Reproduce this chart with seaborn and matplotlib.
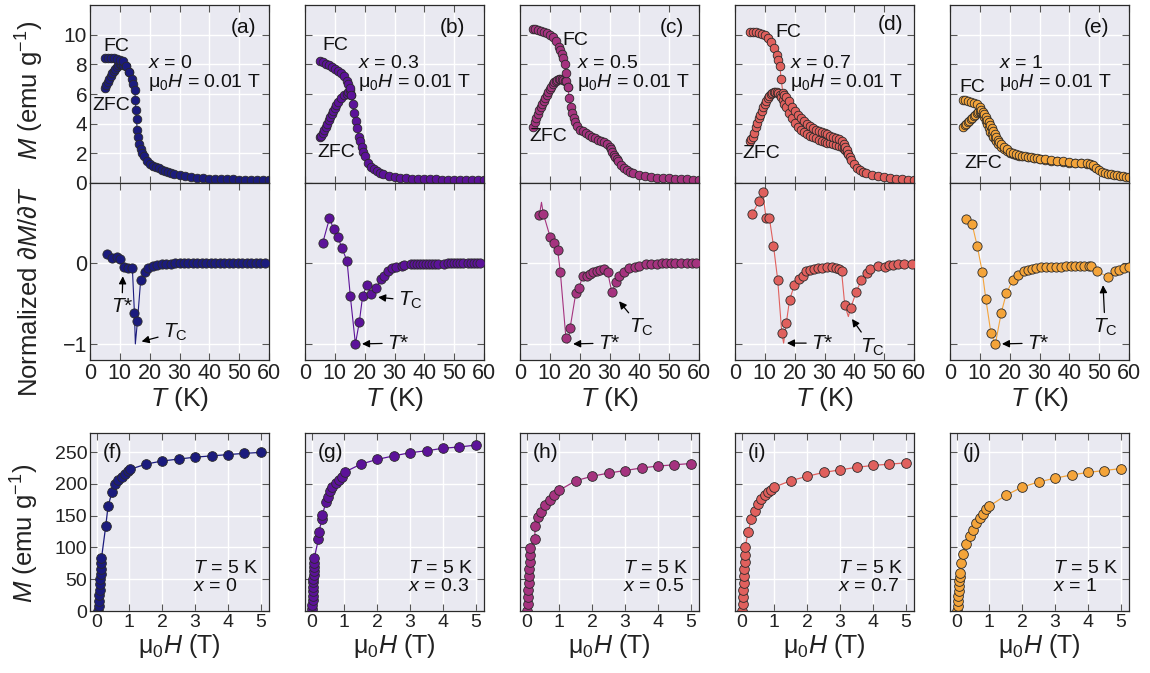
import numpy as np
import pandas as pd
import matplotlib
matplotlib.use("Agg")
import matplotlib.pyplot as plt
import seaborn as sns

# ------------------------------------------------------------------ data
compositions = ["0", "0.3", "0.5", "0.7", "1"]
panel_top = ["(a)", "(b)", "(c)", "(d)", "(e)"]
panel_bot = ["(f)", "(g)", "(h)", "(i)", "(j)"]
colors = ["#1b1b7d", "#5c1299", "#a5337f", "#e0605d", "#f4a43a"]

# M(T) curves, FC and ZFC (emu/g), mu0H = 0.01 T
T_a_fc = [5, 6, 7, 8, 9, 10, 11, 12, 13, 14, 14.5, 15, 15.2, 15.4, 15.6, 15.8, 16, 16.5, 17, 17.5, 18, 19, 20, 21, 22, 23, 24, 25, 26, 27, 28, 30, 32, 34, 36, 38, 40, 42, 44, 46, 48, 50, 52, 54, 56, 58, 60]
M_a_fc = [8.4, 8.4, 8.4, 8.4, 8.35, 8.3, 8.2, 7.9, 7.5, 7.0, 6.7, 6.3, 5.6, 4.9, 4.3, 3.6, 3.1, 2.6, 2.3, 2.0, 1.8, 1.5, 1.3, 1.15, 1.05, 1.0, 0.9, 0.82, 0.75, 0.68, 0.63, 0.55, 0.48, 0.42, 0.36, 0.32, 0.3, 0.28, 0.27, 0.25, 0.24, 0.23, 0.22, 0.21, 0.2, 0.2, 0.19]
T_a_zfc = [5, 5.5, 6, 6.5, 7, 7.5, 8, 8.5, 9, 9.5, 10, 10.5, 11, 12, 13]
M_a_zfc = [6.4, 6.6, 6.8, 7.0, 7.2, 7.4, 7.55, 7.7, 7.85, 7.95, 8.0, 8.0, 7.95, 7.9, 7.5]

T_b_fc = [5, 6, 7, 8, 9, 10, 11, 12, 13, 14, 14.5, 15, 15.5, 16, 16.5, 17, 17.5, 18, 18.5, 19, 19.5, 20, 21, 22, 23, 24, 25, 26, 28, 30, 32, 34, 36, 38, 40, 42, 44, 46, 48, 50, 52, 54, 56, 58, 60]
M_b_fc = [8.2, 8.15, 8.05, 7.95, 7.85, 7.7, 7.55, 7.4, 7.2, 6.9, 6.65, 6.4, 5.9, 5.3, 4.7, 4.2, 3.7, 3.1, 2.85, 2.45, 2.1, 1.85, 1.35, 1.1, 0.92, 0.8, 0.7, 0.62, 0.5, 0.42, 0.36, 0.32, 0.29, 0.27, 0.26, 0.25, 0.24, 0.23, 0.22, 0.22, 0.21, 0.21, 0.2, 0.2, 0.2]
T_b_zfc = [5, 5.5, 6, 6.5, 7, 7.5, 8, 8.5, 9, 9.5, 10, 10.5, 11, 12, 13, 14, 14.5, 15, 15.5]
M_b_zfc = [3.1, 3.2, 3.4, 3.6, 3.8, 4.0, 4.25, 4.45, 4.65, 4.85, 5.05, 5.25, 5.45, 5.75, 5.95, 6.0, 6.15, 6.3, 5.9]

T_c_fc = [4.5, 5, 6, 7, 8, 9, 10, 11, 12, 13, 13.5, 14, 14.5, 15, 15.5, 16, 16.5, 17, 17.5, 18, 18.5, 19, 20, 21, 22, 23, 24, 25, 26, 27, 28, 29, 30, 30.5, 31, 31.5, 32, 32.5, 33, 34, 35, 36, 37, 38, 40, 42, 44, 46, 48, 50, 52, 54, 56, 58, 60]
M_c_fc = [10.4, 10.4, 10.3, 10.25, 10.2, 10.1, 10.0, 9.85, 9.55, 9.15, 8.95, 8.7, 8.4, 8.0, 7.4, 6.5, 5.75, 5.15, 4.75, 4.4, 4.1, 3.85, 3.6, 3.48, 3.38, 3.25, 3.1, 3.0, 2.92, 2.85, 2.78, 2.65, 2.45, 2.3, 2.1, 1.9, 1.75, 1.6, 1.45, 1.2, 1.0, 0.85, 0.75, 0.66, 0.55, 0.47, 0.41, 0.37, 0.34, 0.31, 0.28, 0.26, 0.24, 0.22, 0.2]
T_c_zfc = [4.5, 5, 5.5, 6, 6.5, 7, 7.5, 8, 8.5, 9, 9.5, 10, 10.5, 11, 11.5, 12, 12.5, 13, 13.5, 14, 14.5, 15, 15.5, 16]
M_c_zfc = [3.8, 4.1, 4.4, 4.65, 4.9, 5.15, 5.35, 5.55, 5.75, 5.95, 6.15, 6.35, 6.5, 6.65, 6.8, 6.9, 6.95, 7.0, 7.0, 7.0, 6.95, 6.9, 6.9, 6.5]

T_d_fc = [5, 6, 7, 8, 9, 10, 11, 12, 13, 14, 14.5, 15, 15.5, 16, 16.5, 17, 18, 19, 20, 21, 22, 23, 24, 25, 26, 27, 28, 29, 30, 31, 32, 33, 34, 35, 36, 36.5, 37, 37.5, 38, 38.5, 39, 40, 41, 42, 43, 44, 46, 48, 50, 52, 54, 56, 58, 60]
M_d_fc = [10.2, 10.2, 10.15, 10.1, 10.05, 10.0, 9.8, 9.5, 9.1, 8.6, 8.3, 7.9, 7.0, 6.1, 5.95, 5.8, 5.5, 5.15, 4.85, 4.6, 4.35, 4.15, 4.0, 3.85, 3.72, 3.6, 3.5, 3.42, 3.35, 3.27, 3.2, 3.12, 3.05, 2.95, 2.8, 2.65, 2.45, 2.2, 1.95, 1.75, 1.55, 1.25, 1.0, 0.85, 0.75, 0.67, 0.55, 0.46, 0.38, 0.32, 0.28, 0.25, 0.22, 0.2]
T_d_zfc = [5, 5.5, 6, 6.5, 7, 7.5, 8, 8.5, 9, 9.5, 10, 10.5, 11, 11.5, 12, 12.5, 13, 13.5, 14, 14.5, 15, 15.5, 16, 16.5, 17, 18, 19, 20, 21, 22, 23, 24, 25, 26, 27, 28, 29, 30, 31, 32, 33, 34, 35, 36, 36.5, 37, 37.5, 38]
M_d_zfc = [2.8, 2.95, 3.1, 3.4, 3.75, 4.05, 4.35, 4.6, 4.85, 5.1, 5.3, 5.5, 5.7, 5.85, 5.97, 6.07, 6.13, 6.15, 6.12, 6.05, 5.95, 5.8, 5.6, 5.35, 5.1, 4.7, 4.35, 4.05, 3.8, 3.6, 3.45, 3.3, 3.2, 3.1, 3.0, 2.92, 2.85, 2.78, 2.72, 2.67, 2.62, 2.57, 2.5, 2.4, 2.3, 2.2, 2.1, 1.95]

T_e_fc = [4.5, 5, 6, 7, 8, 9, 10, 10.5, 11, 11.5, 12, 12.5, 13, 13.5, 14, 14.5, 15, 15.5, 16, 16.5, 17, 18, 19, 20, 21, 22, 23, 24, 25, 26, 27, 28, 29, 30, 32, 34, 36, 38, 40, 42, 44, 46, 47, 48, 49, 50, 51, 52, 53, 54, 55, 56, 57, 58, 59, 60]
M_e_fc = [5.6, 5.6, 5.5, 5.45, 5.4, 5.3, 5.1, 4.95, 4.8, 4.65, 4.45, 4.25, 4.1, 3.9, 3.7, 3.5, 3.3, 3.1, 2.9, 2.75, 2.62, 2.45, 2.28, 2.12, 2.02, 1.95, 1.9, 1.85, 1.8, 1.76, 1.73, 1.7, 1.67, 1.64, 1.6, 1.55, 1.5, 1.45, 1.42, 1.38, 1.36, 1.33, 1.3, 1.2, 1.02, 0.85, 0.74, 0.68, 0.63, 0.6, 0.56, 0.52, 0.48, 0.45, 0.43, 0.42]
T_e_zfc = [4.5, 5, 5.5, 6, 6.5, 7, 7.5, 8, 8.5, 9, 9.5, 10, 10.5, 11, 11.5, 12, 12.5, 13, 13.5, 14, 14.5, 15, 15.5, 16, 17, 18, 19, 20, 21, 22, 23, 24, 26, 28, 30, 32, 34, 36, 38, 40, 42, 44, 46, 47, 48, 49]
M_e_zfc = [3.8, 3.9, 4.0, 4.1, 4.2, 4.3, 4.4, 4.5, 4.6, 4.7, 4.78, 4.82, 4.78, 4.65, 4.45, 4.2, 3.95, 3.7, 3.47, 3.28, 3.1, 2.95, 2.8, 2.65, 2.45, 2.3, 2.15, 2.05, 1.97, 1.9, 1.85, 1.8, 1.72, 1.66, 1.6, 1.56, 1.51, 1.46, 1.42, 1.38, 1.35, 1.32, 1.29, 1.25, 1.15, 1.0]

# normalized dM/dT (markers) and extra line-only extrema
dT_a = [5.6, 7.3, 9, 10, 11.3, 12.8, 14.2, 14.9, 15.9, 17, 18.3, 19.4, 21, 22.5, 24, 25.5, 27, 28.5, 30, 31.5, 33, 34.5, 36, 37.5, 39, 40.5, 42, 43.5, 45, 46.5, 48, 49.5, 51, 52.5, 54, 55.5, 57, 58.5]
dv_a = [0.115, 0.07, 0.08, 0.05, -0.04, -0.06, -0.06, -0.62, -0.72, -0.2, -0.1, -0.06, -0.03, -0.02, -0.01, -0.01, -0.01, 0, 0, 0, 0, 0, 0, 0, 0, 0, 0, 0, 0, 0, 0, 0, 0, 0, 0, 0, 0, 0]
xT_a, xv_a = [15.2], [-1.0]

dT_b = [5.9, 8.2, 9.6, 11, 12.4, 14.1, 15.2, 16.9, 18.2, 19.3, 20.7, 22.1, 23.8, 25.5, 26.6, 27.8, 29.1, 30.5, 32.5, 33.3, 35.5, 36.5, 37.5, 38.5, 39.5, 40.5, 41.5, 42.5, 43.5, 44.5, 46.5, 48, 49, 50, 51, 52, 53, 54.5, 55.5, 56.5, 57.5, 58.5]
dv_b = [0.25, 0.56, 0.43, 0.33, 0.19, 0.03, -0.41, -1.0, -0.73, -0.41, -0.27, -0.38, -0.31, -0.19, -0.15, -0.09, -0.06, -0.04, -0.03, -0.02, -0.01, -0.01, -0.01, -0.01, -0.01, -0.01, -0.01, -0.01, -0.01, -0.01, -0.01, 0, 0, 0, 0, 0, 0, 0, 0, 0, 0, 0.01]
xT_b, xv_b = [], []

dT_c = [6.5, 7.8, 10.1, 11.5, 12.6, 13.5, 15.4, 16.8, 18.7, 19.8, 21, 22.3, 23.4, 24.6, 25.8, 26.9, 28, 29.4, 30.8, 32.2, 33.3, 35, 36.7, 38.4, 40, 42.3, 44, 46, 47.5, 49, 50.5, 52, 54, 56, 57.5, 59]
dv_c = [0.6, 0.62, 0.33, 0.26, 0.17, -0.1, -0.93, -0.8, -0.37, -0.3, -0.16, -0.15, -0.13, -0.11, -0.09, -0.08, -0.07, -0.11, -0.36, -0.23, -0.16, -0.1, -0.06, -0.04, -0.03, -0.01, -0.01, -0.01, 0, 0, 0, 0, 0, 0, 0, 0]
xT_c, xv_c = [7.2, 16.0], [0.76, -0.99]

dT_d = [5.8, 8.2, 9.3, 10.4, 11.5, 12.9, 14.3, 15.7, 17.2, 18.3, 19.9, 21.3, 22.7, 23.9, 25.3, 26.6, 27.9, 29.2, 30.7, 32.4, 33.8, 34.9, 35.7, 36.8, 38.8, 40.7, 42.4, 44.1, 45.2, 48.1, 50.3, 51.7, 53.1, 54.8, 56.5, 59.3]
dv_d = [0.62, 0.78, 0.89, 0.56, 0.57, 0.22, -0.2, -0.87, -0.74, -0.45, -0.27, -0.19, -0.16, -0.09, -0.08, -0.07, -0.06, -0.055, -0.05, -0.05, -0.055, -0.07, -0.09, -0.52, -0.55, -0.35, -0.2, -0.12, -0.07, -0.03, -0.04, -0.02, -0.02, -0.01, -0.01, -0.01]
xT_d, xv_d = [16.3, 38.0], [-0.99, -0.66]

dT_e = [5.4, 7.4, 9.1, 10.8, 12, 13.7, 15.2, 17.2, 18.9, 21, 22.9, 24.7, 26.1, 27.5, 28.9, 30.6, 32.3, 34, 35.6, 37.3, 39, 40.5, 42, 43.5, 45, 46.5, 47.3, 49.3, 52.8, 55.3, 56.5, 58.2, 59.9]
dv_e = [0.55, 0.49, 0.22, -0.1, -0.44, -0.86, -1.0, -0.61, -0.37, -0.21, -0.14, -0.09, -0.08, -0.07, -0.06, -0.05, -0.05, -0.04, -0.04, -0.04, -0.03, -0.03, -0.03, -0.03, -0.03, -0.03, -0.03, -0.09, -0.17, -0.09, -0.08, -0.06, -0.05]
xT_e, xv_e = [], []

# M(H) at T = 5 K
H_f = [0.05, 0.06, 0.07, 0.08, 0.09, 0.1, 0.11, 0.12, 0.13, 0.14, 0.15, 0.28, 0.35, 0.47, 0.56, 0.66, 0.76, 0.86, 0.96, 1.03, 1.5, 2.0, 2.5, 3.0, 3.5, 4.0, 4.5, 5.0]
M_f = [0, 8, 16, 25, 33, 42, 50, 58, 66, 75, 83, 134, 165, 187, 200, 206, 211, 216, 220, 223, 231, 236, 239, 242, 244, 246, 248, 249.5]
H_g = [0.02, 0.025, 0.03, 0.035, 0.04, 0.045, 0.05, 0.055, 0.06, 0.065, 0.07, 0.075, 0.08, 0.21, 0.22, 0.32, 0.33, 0.44, 0.51, 0.55, 0.63, 0.73, 0.83, 0.93, 1.03, 1.5, 2.0, 2.5, 3.0, 3.5, 4.0, 4.5, 5.0]
M_g = [3, 10, 17, 24, 31, 38, 45, 51, 57, 63, 69, 76, 83, 113, 125, 144, 151, 172, 179, 189, 195.5, 200.7, 206, 211, 219, 231, 238.5, 244, 249, 252, 256, 258, 261]
H_h = [0.02, 0.03, 0.04, 0.05, 0.06, 0.07, 0.08, 0.09, 0.1, 0.11, 0.25, 0.26, 0.35, 0.45, 0.55, 0.7, 0.85, 1.0, 1.5, 2.0, 2.5, 3.0, 3.5, 4.0, 4.5, 5.0]
M_h = [0, 11, 22, 33, 44, 55, 66, 77, 88, 99, 114, 133, 148, 156, 167, 175, 183, 190, 205, 212, 217, 221, 225, 228, 230, 232]
H_i = [0.02, 0.03, 0.04, 0.05, 0.06, 0.07, 0.08, 0.09, 0.1, 0.11, 0.2, 0.3, 0.4, 0.5, 0.6, 0.7, 0.8, 0.9, 1.0, 1.5, 2.0, 2.5, 3.0, 3.5, 4.0, 4.5, 5.0]
M_i = [0, 11, 22, 33, 44, 55, 66, 77, 88, 100, 125, 145, 158, 168, 176, 182, 187, 191, 195, 205, 212, 218, 222, 226, 229, 231, 233]
H_j = [0.02, 0.03, 0.04, 0.05, 0.06, 0.07, 0.08, 0.09, 0.1, 0.15, 0.2, 0.3, 0.4, 0.5, 0.6, 0.7, 0.8, 0.9, 1.0, 1.5, 2.0, 2.5, 3.0, 3.5, 4.0, 4.5, 5.0]
M_j = [0, 8, 16, 24, 32, 40, 47, 54, 60, 75, 90, 105, 118, 128, 138, 146, 153, 160, 165, 182, 195, 203, 209, 214, 218, 221, 224]

MT = [(T_a_fc, M_a_fc, T_a_zfc, M_a_zfc), (T_b_fc, M_b_fc, T_b_zfc, M_b_zfc),
      (T_c_fc, M_c_fc, T_c_zfc, M_c_zfc), (T_d_fc, M_d_fc, T_d_zfc, M_d_zfc),
      (T_e_fc, M_e_fc, T_e_zfc, M_e_zfc)]
DER = [(dT_a, dv_a, xT_a, xv_a), (dT_b, dv_b, xT_b, xv_b), (dT_c, dv_c, xT_c, xv_c),
       (dT_d, dv_d, xT_d, xv_d), (dT_e, dv_e, xT_e, xv_e)]
MH = [(H_f, M_f), (H_g, M_g), (H_h, M_h), (H_i, M_i), (H_j, M_j)]

# ------------------------------------------------------------------ style
sns.set_theme(style="darkgrid")
plt.rcParams["font.family"] = ["Liberation Sans", "DejaVu Sans"]
plt.rcParams["mathtext.fontset"] = "custom"
plt.rcParams["mathtext.rm"] = "Liberation Sans"
plt.rcParams["mathtext.it"] = "Liberation Sans:italic"
plt.rcParams["mathtext.bf"] = "Liberation Sans:bold"
plt.rcParams["axes.unicode_minus"] = True

W, Hpx = 1150, 673
fig = plt.figure(figsize=(W / 100, Hpx / 100), dpi=100)
lefts = [90, 305, 520, 735, 950]
width = 179
BG = "#e9e9f1"
EDGE = "#2a2a2a"


def rect(left, top, bottom):
    return [left / W, 1 - bottom / Hpx, width / W, (bottom - top) / Hpx]


def style(ax, lsize):
    ax.set_facecolor(BG)
    ax.grid(True, color="white", linewidth=1.0)
    ax.set_axisbelow(True)
    for s in ax.spines.values():
        s.set_color(EDGE)
        s.set_linewidth(0.9)
        s.set_visible(True)
    ax.tick_params(direction="in", length=5, width=0.8, color="#555555",
                   top=True, right=True, bottom=True, left=True,
                   labelsize=lsize, pad=2, labelcolor="#222222")


arrow = dict(arrowstyle="-|>", color="black", lw=0.9, mutation_scale=11,
             shrinkA=1, shrinkB=0)

# annotation positions (text, arrow head) in data units
ann_star = [((10.7, -0.54), (11.0, -0.16)), ((31.2, -0.99), (19.1, -1.0)),
            ((29.8, -0.99), (17.8, -1.0)), ((29.2, -0.99), (17.4, -0.99)),
            ((29.5, -0.99), (17.4, -1.0))]
ann_tc = [((28.5, -0.86), (17.3, -0.97)), ((35.2, -0.46), (24.5, -0.42)),
          ((40.6, -0.80), (33.2, -0.47)), ((45.9, -1.04), (39.2, -0.69)),
          ((52.0, -0.80), (51.3, -0.27))]
fc_pos = [(0.145, 0.767), (0.168, 0.770), (0.307, 0.803), (0.296, 0.848), (0.123, 0.539)]
zfc_pos = [(0.117, 0.438), (0.173, 0.174), (0.156, 0.264), (0.145, 0.163), (0.184, 0.107)]
info_x = [0.324, 0.296, 0.318, 0.307, 0.274]
lab_pos = [(0.855, 0.876), (0.821, 0.871), (0.849, 0.876), (0.866, 0.888), (0.821, 0.876)]

for i in range(5):
    c = colors[i]
    # ---------------- top: M(T)
    ax = fig.add_axes(rect(lefts[i], 5, 183))
    style(ax, 15)
    Tfc, Mfc, Tz, Mz = MT[i]
    for Tx, Mx in ((Tz, Mz), (Tfc, Mfc)):
        sns.lineplot(x=Tx, y=Mx, ax=ax, color=c, marker="o", markersize=6.2,
                     markeredgecolor=EDGE, markeredgewidth=0.6, linewidth=0.8,
                     estimator=None, sort=False, legend=False)
    ax.set_xlim(0, 60)
    ax.set_ylim(0, 12)
    ax.set_xticks(range(0, 61, 10))
    ax.set_yticks(range(0, 11, 2))
    ax.tick_params(labelbottom=False, labelleft=(i == 0))
    ax.set_xlabel("")
    ax.set_ylabel("")
    ax.text(*fc_pos[i], "FC", transform=ax.transAxes, ha="center", va="center", fontsize=14, color="#111")
    ax.text(*zfc_pos[i], "ZFC", transform=ax.transAxes, ha="center", va="center", fontsize=14, color="#111")
    ax.text(info_x[i], 0.674, r"$x$ = " + compositions[i], transform=ax.transAxes,
            ha="left", va="center", fontsize=14, color="#111")
    ax.text(info_x[i], 0.567, r"μ$_0$$H$ = 0.01 T", transform=ax.transAxes,
            ha="left", va="center", fontsize=14, color="#111")
    ax.text(*lab_pos[i], panel_top[i], transform=ax.transAxes, ha="center",
            va="center", fontsize=15, color="#111")

    # ---------------- middle: dM/dT
    ax = fig.add_axes(rect(lefts[i], 183, 360))
    style(ax, 15.5)
    dT, dv, xT, xv = DER[i]
    line = pd.DataFrame({"T": list(dT) + list(xT), "v": list(dv) + list(xv)}).sort_values("T")
    sns.lineplot(data=line, x="T", y="v", ax=ax, color=c, linewidth=0.8,
                 estimator=None, sort=False, legend=False)
    sns.scatterplot(x=dT, y=dv, ax=ax, color=c, s=44, edgecolor=EDGE,
                    linewidth=0.6, zorder=3, legend=False)
    ax.set_xlim(0, 60)
    ax.set_ylim(-1.2, 1.0)
    ax.set_xticks(range(0, 61, 10))
    ax.set_yticks([-1, 0])
    ax.tick_params(labelleft=(i == 0))
    ax.set_ylabel("")
    ax.set_xlabel(r"$T$ (K)", fontsize=19, labelpad=1, color="#222")
    (tx, ty), (hx, hy) = ann_star[i]
    ax.annotate(r"$T$*", xy=(hx, hy), xytext=(tx, ty), ha="center", va="center",
                fontsize=15, arrowprops=arrow, color="#111")
    (tx, ty), (hx, hy) = ann_tc[i]
    ax.annotate(r"$T_{\mathrm{C}}$", xy=(hx, hy), xytext=(tx, ty), ha="center",
                va="center", fontsize=15, arrowprops=arrow, color="#111")

    # ---------------- bottom: M(H)
    ax = fig.add_axes(rect(lefts[i], 433, 611))
    style(ax, 14)
    Hx, Mx = MH[i]
    sns.lineplot(x=Hx, y=Mx, ax=ax, color=c, marker="o", markersize=7,
                 markeredgecolor=EDGE, markeredgewidth=0.6, linewidth=0.9,
                 estimator=None, sort=False, legend=False)
    ax.set_xlim(-0.2, 5.25)
    ax.set_ylim(0, 280)
    ax.set_xticks(range(0, 6))
    ax.set_yticks(range(0, 251, 50))
    ax.tick_params(labelleft=(i == 0))
    ax.set_ylabel("")
    ax.set_xlabel(r"μ$_0$$H$ (T)", fontsize=18, labelpad=1, color="#222")
    ax.text(0.07, 0.888, panel_bot[i], transform=ax.transAxes, ha="left",
            va="center", fontsize=15, color="#111")
    ax.text(0.94, 0.19, "$T$ = 5 K\n$x$ = " + compositions[i], transform=ax.transAxes,
            ha="right", va="center", multialignment="left", fontsize=14,
            linespacing=1.1, color="#111")

fig.text(30 / W, 1 - 90 / Hpx, r"$M$ (emu g$^{-1}$)", rotation=90, ha="center",
         va="center", fontsize=18.5, color="#222")
fig.text(30 / W, 1 - 292 / Hpx, r"Normalized ∂$M$/∂$T$", rotation=90, ha="center",
         va="center", fontsize=18.5, color="#222")
fig.text(25 / W, 1 - 533 / Hpx, r"$M$ (emu g$^{-1}$)", rotation=90, ha="center",
         va="center", fontsize=18.5, color="#222")

fig.savefig("out.png", dpi=100, facecolor="white")
